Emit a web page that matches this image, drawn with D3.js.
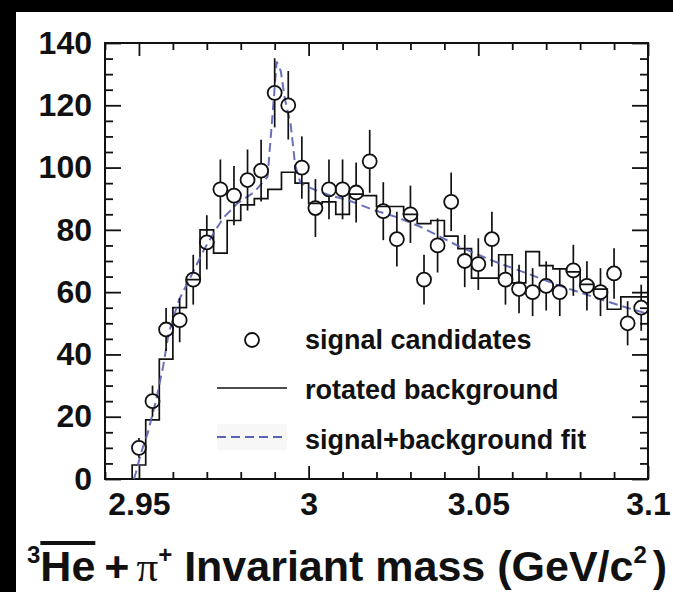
<!DOCTYPE html>
<html>
<head>
<meta charset="utf-8">
<script src="https://cdn.jsdelivr.net/npm/d3@7"></script>
<style>
  body { margin: 0; background: #000; }
  svg { display: block; }
  text { font-family: "Liberation Sans", Arial, Helvetica, sans-serif; font-weight: bold; fill: #111; }
</style>
</head>
<body>
<div id="chart"></div>
<script>
// bin centres (GeV/c^2), bin width 0.004
const masses = [2.950, 2.954, 2.958, 2.962, 2.966, 2.970, 2.974, 2.978, 2.982, 2.986,
                2.990, 2.994, 2.998, 3.002, 3.006, 3.010, 3.014, 3.018, 3.022, 3.026,
                3.030, 3.034, 3.038, 3.042, 3.046, 3.050, 3.054, 3.058, 3.062, 3.066,
                3.070, 3.074, 3.078, 3.082, 3.086, 3.090, 3.094, 3.098];
// signal candidates
const counts = [10, 25, 48, 51, 64, 76, 93, 91, 96, 99,
                124, 120, 100, 87, 93, 93, 92, 102, 86, 77,
                85, 64, 75, 89, 70, 69, 77, 64, 61, 60,
                62, 60, 67, 62, 60, 66, 50, 55];
const countErrors = [3.2, 5, 6.9, 7.1, 8, 8.7, 9.6, 9.5, 9.8, 9.9,
                     11.1, 11, 10, 9.3, 9.6, 9.6, 9.6, 10.1, 9.3, 8.8,
                     9.2, 8, 8.7, 9.4, 8.4, 8.3, 8.8, 8, 7.8, 7.7,
                     7.9, 7.7, 8.2, 7.9, 7.7, 8.1, 7.1, 7.4];
// rotated background histogram
const background = [4.5, 19, 38.5, 55, 64, 80, 72.5, 83, 88, 90,
                    93, 98.5, 95, 88.5, 89, 85, 91.5, 91, 87.5, 87.5,
                    85, 82, 83, 78, 74, 64.5, 64.5, 72, 63, 73,
                    68.5, 67.5, 66.5, 62.5, 61, 54.5, 58.5, 58.5];
const binHalfWidth = 0.002;
// signal+background fit curve
const fitMass = [2.9485, 2.9491, 2.9506, 2.9526, 2.955, 2.9571, 2.9588, 2.9618, 2.9653, 2.9691,
                 2.9726, 2.975, 2.9791, 2.9838, 2.9879, 2.9894, 2.9906, 2.9918, 2.993, 2.9947,
                 2.996, 2.9976, 3.0015, 3.0065, 3.0115, 3.0191, 3.0262, 3.0329, 3.0447, 3.0544,
                 3.0644, 3.0741, 3.0838, 3.0938, 3.1];
const fitValue = [0, 2, 8.3, 14.8, 25, 36, 47, 57.5, 65, 73.5,
                  80, 84, 88.6, 92, 97, 117.5, 134, 131, 122, 114,
                  101, 95, 93, 91, 89.6, 86.4, 84, 81, 74.5, 70,
                  66, 62, 58.5, 55, 53];

const xMajor = [2.95, 3, 3.05, 3.1];
const xMinor = [2.94, 2.96, 2.97, 2.98, 2.99, 3.01, 3.02, 3.03, 3.04, 3.06, 3.07, 3.08, 3.09];
const yMajor = [0, 20, 40, 60, 80, 100, 120, 140];
const yMinor = [5, 10, 15, 25, 30, 35, 45, 50, 55, 65, 70, 75, 85, 90, 95, 105, 110, 115, 125, 130, 135];

const legendItems = ["signal candidates", "rotated background", "signal+background fit"];

const W = 673, H = 592;
const FRAME = {LEFT: 105, RIGHT: 648, TOP: 43, BOTTOM: 479};
const FIT_COLOR = "#5a62b4";

const svg = d3.select("#chart").append("svg")
    .attr("width", W).attr("height", H);

// black border on top / left like the scanned figure
svg.append("rect").attr("x", 0).attr("y", 0).attr("width", W).attr("height", H).attr("fill", "#000");
svg.append("rect").attr("x", 16).attr("y", 12).attr("width", W - 16).attr("height", H - 12).attr("fill", "#fff");

const x = d3.scaleLinear().domain([2.94, 3.1]).range([FRAME.LEFT, FRAME.RIGHT]);
const y = d3.scaleLinear().domain([0, 140]).range([FRAME.BOTTOM, FRAME.TOP]);

// axes (ROOT style: ticks inward on all four sides)
function styleAxis(g) {
  g.select(".domain").remove();
  g.selectAll("line").attr("stroke", "#111").attr("stroke-width", 1.8);
  g.selectAll("text").style("font-size", "32px").attr("fill", "#111");
}
svg.append("g").attr("transform", `translate(0,${FRAME.BOTTOM})`)
   .call(d3.axisBottom(x).tickValues(xMajor).tickSize(-13).tickPadding(13).tickFormat(d3.format("")))
   .call(styleAxis);
svg.append("g").attr("transform", `translate(0,${FRAME.BOTTOM})`)
   .call(d3.axisBottom(x).tickValues(xMinor).tickSize(-7).tickFormat(""))
   .call(styleAxis);
svg.append("g").attr("transform", `translate(0,${FRAME.TOP})`)
   .call(d3.axisTop(x).tickValues(xMajor).tickSize(-13).tickFormat(""))
   .call(styleAxis);
svg.append("g").attr("transform", `translate(0,${FRAME.TOP})`)
   .call(d3.axisTop(x).tickValues(xMinor).tickSize(-7).tickFormat(""))
   .call(styleAxis);
svg.append("g").attr("transform", `translate(${FRAME.LEFT},0)`)
   .call(d3.axisLeft(y).tickValues(yMajor).tickSize(-16).tickPadding(13))
   .call(styleAxis);
svg.append("g").attr("transform", `translate(${FRAME.LEFT},0)`)
   .call(d3.axisLeft(y).tickValues(yMinor).tickSize(-8).tickFormat(""))
   .call(styleAxis);
svg.append("g").attr("transform", `translate(${FRAME.RIGHT},0)`)
   .call(d3.axisRight(y).tickValues(yMajor).tickSize(-16).tickFormat(""))
   .call(styleAxis);
svg.append("g").attr("transform", `translate(${FRAME.RIGHT},0)`)
   .call(d3.axisRight(y).tickValues(yMinor).tickSize(-8).tickFormat(""))
   .call(styleAxis);

svg.append("rect")
   .attr("x", FRAME.LEFT).attr("y", FRAME.TOP)
   .attr("width", FRAME.RIGHT - FRAME.LEFT).attr("height", FRAME.BOTTOM - FRAME.TOP)
   .attr("fill", "none").attr("stroke", "#111").attr("stroke-width", 2);

// background histogram as a step outline
let histPath = `M${x(masses[0] - binHalfWidth)},${y(0)}`;
masses.forEach((m, i) => {
  histPath += `V${y(background[i])}H${x(m + binHalfWidth)}`;
});
svg.append("path").attr("d", histPath)
   .attr("fill", "none").attr("stroke", "#111").attr("stroke-width", 1.7);

// fit curve
const fitPts = fitMass.map((m, i) => [m, fitValue[i]]);
svg.append("path")
   .datum(fitPts)
   .attr("d", d3.line().x(d => x(d[0])).y(d => y(d[1])))
   .attr("fill", "none").attr("stroke", FIT_COLOR).attr("stroke-width", 2)
   .attr("stroke-dasharray", "9,5").attr("opacity", 0.9);

// data points with vertical error bars (not drawn inside the marker)
const R = 7;
const pts = svg.append("g").selectAll("g").data(masses).join("g");
pts.append("line")
   .attr("x1", d => x(d)).attr("x2", d => x(d))
   .attr("y1", (d, i) => y(counts[i] + countErrors[i]))
   .attr("y2", (d, i) => Math.max(y(counts[i]) - R, y(counts[i] + countErrors[i])))
   .attr("stroke", "#111").attr("stroke-width", 1.7);
pts.append("line")
   .attr("x1", d => x(d)).attr("x2", d => x(d))
   .attr("y1", (d, i) => Math.min(y(counts[i]) + R, y(counts[i] - countErrors[i])))
   .attr("y2", (d, i) => y(counts[i] - countErrors[i]))
   .attr("stroke", "#111").attr("stroke-width", 1.7);
pts.append("circle")
   .attr("cx", d => x(d)).attr("cy", (d, i) => y(counts[i]))
   .attr("r", R).attr("fill", "none").attr("stroke", "#111").attr("stroke-width", 1.8);

// legend
const leg = svg.append("g");
leg.append("circle").attr("cx", 252).attr("cy", 340).attr("r", R)
   .attr("fill", "none").attr("stroke", "#111").attr("stroke-width", 1.8);
leg.append("line").attr("x1", 217).attr("x2", 287).attr("y1", 388).attr("y2", 388)
   .attr("stroke", "#111").attr("stroke-width", 1.7);
leg.append("rect").attr("x", 217).attr("y", 424).attr("width", 70).attr("height", 26)
   .attr("fill", "#f7f7f7");
leg.append("line").attr("x1", 217).attr("x2", 287).attr("y1", 437).attr("y2", 437)
   .attr("stroke", FIT_COLOR).attr("stroke-width", 2).attr("stroke-dasharray", "9,5");
leg.selectAll("text.lbl").data(legendItems).join("text")
   .attr("class", "lbl")
   .attr("x", 305).attr("y", (d, i) => 349 + i * 50)
   .style("font-size", "27px")
   .text(d => d);

// x axis title
const title = svg.append("text").attr("x", 27).attr("y", 581).style("font-size", "43px");
title.append("tspan").style("font-size", "24px").attr("dy", -18).text("3");
title.append("tspan").attr("dy", 18).text("He");
title.append("tspan").attr("dx", 9).text("+");
title.append("tspan").attr("dx", 7).style("font-family", "'Liberation Serif', serif").style("font-weight", "normal").text("\u03c0");
title.append("tspan").style("font-size", "24px").attr("dy", -18).text("+");
title.append("tspan").attr("dy", 18).text(" Invariant mass (GeV/c");
title.append("tspan").style("font-size", "24px").attr("dy", -18).text("2");
title.append("tspan").attr("dy", 18).attr("dx", 6).text(")");

// overline on He (antiparticle)
const tn = title.node();
const hx0 = tn.getStartPositionOfChar(1).x;
const hx1 = tn.getEndPositionOfChar(2).x;
svg.append("rect").attr("x", hx0).attr("y", 541).attr("width", hx1 - hx0).attr("height", 4).attr("fill", "#111");
</script>
</body>
</html>
